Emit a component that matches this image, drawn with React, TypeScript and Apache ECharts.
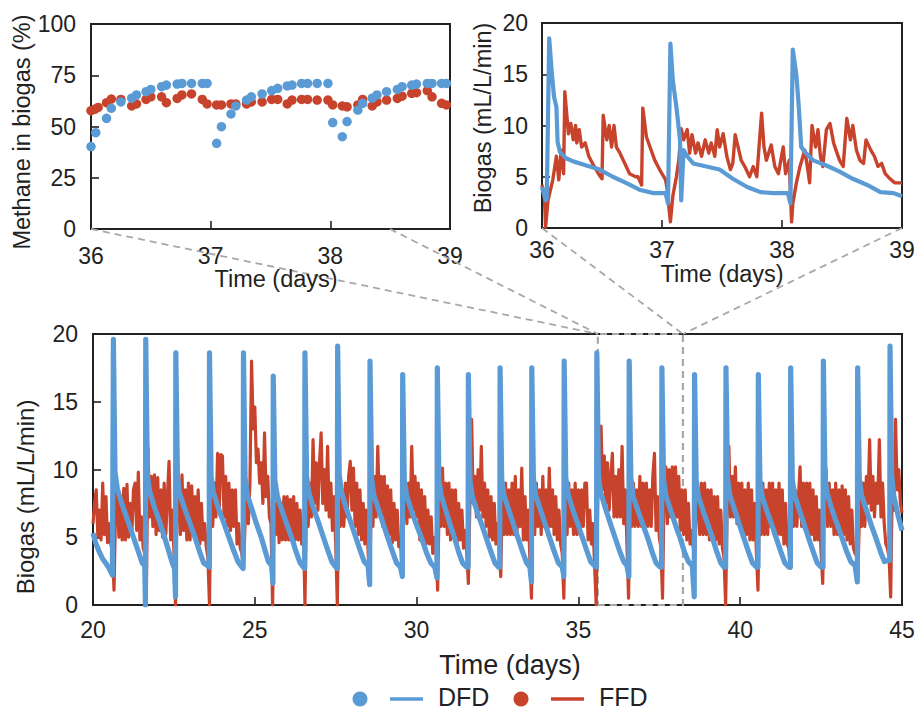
import React, { useEffect, useRef } from "react";
import * as echarts from "echarts";

const FONT = "'Liberation Sans', Arial, Helvetica, sans-serif";
const BLUE = "#5B9BD5";
const RED = "#C8432C";
const INK = "#222222";
const DASH = "#A8A8A8";

// ---------- Top-left: methane content (%) ----------
const methaneDFD: [number, number][] = [
  [36.0, 40.2], [36.04, 47], [36.13, 54], [36.17, 58.9], [36.25, 62], [36.34, 63.8], [36.38, 65.4],
  [36.46, 67], [36.5, 68.1], [36.59, 69.4], [36.63, 70.2], [36.72, 70.7], [36.76, 71], [36.84, 71],
  [36.93, 71], [36.97, 71], [37.05, 41.8], [37.09, 49.9], [37.17, 56.1], [37.21, 60], [37.3, 62.9],
  [37.34, 64.5], [37.43, 65.9], [37.51, 67.5], [37.56, 68.6], [37.64, 69.8], [37.68, 70.2],
  [37.76, 71], [37.81, 71], [37.89, 71], [37.98, 71], [38.02, 51.9], [38.1, 45], [38.14, 52.4],
  [38.23, 58], [38.27, 61.3], [38.35, 63.8], [38.39, 65.4], [38.47, 67], [38.56, 68.1], [38.6, 69.4],
  [38.68, 70.2], [38.72, 70.7], [38.81, 71], [38.85, 71], [38.93, 71], [38.97, 71],
];
const methaneFFD: [number, number][] = [
  [36.0, 57.7], [36.03, 58.4], [36.06, 59.3], [36.13, 61.6], [36.17, 63.4], [36.25, 63.2], [36.34, 60],
  [36.38, 61], [36.46, 63.2], [36.5, 64.5], [36.59, 64.5], [36.63, 61.6], [36.72, 63.7], [36.76, 65.4],
  [36.84, 65.9], [36.93, 63.2], [36.97, 61], [37.05, 60.5], [37.09, 60.5], [37.17, 61], [37.21, 61],
  [37.3, 61], [37.34, 62], [37.43, 62], [37.51, 63.2], [37.56, 63.2], [37.64, 61], [37.68, 62.9],
  [37.76, 63.2], [37.81, 63.2], [37.89, 62.9], [37.98, 62.9], [38.02, 60.5], [38.1, 60], [38.14, 59.6],
  [38.23, 60.5], [38.27, 63.2], [38.35, 60], [38.39, 62], [38.47, 62.9], [38.56, 63.7], [38.6, 64.8],
  [38.68, 66.2], [38.72, 66.5], [38.81, 67.5], [38.85, 64.5], [38.93, 61.3], [38.97, 60.5],
];

// ---------- Top-right: biogas, zoomed days 36-39 ----------
const zoomDFD: [number, number][] = [
  [36.0, 4.0], [36.03, 2.7], [36.04, 2.9], [36.06, 18.5], [36.08, 15.4], [36.1, 12.8], [36.12, 11.8],
  [36.13, 8.4], [36.15, 7.4], [36.2, 6.8], [36.26, 6.5], [36.37, 6.1], [36.48, 5.7], [36.59, 5.0],
  [36.7, 4.4], [36.82, 3.7], [36.93, 3.4], [37.03, 3.4], [37.05, 2.4], [37.07, 18.0], [37.09, 14.4],
  [37.12, 11.8], [37.15, 8.6], [37.16, 2.7], [37.18, 7.6], [37.21, 7.0], [37.26, 6.3], [37.37, 6.0],
  [37.48, 5.7], [37.59, 4.8], [37.71, 4.0], [37.82, 3.5], [37.93, 3.4], [38.05, 3.4], [38.07, 2.4],
  [38.09, 17.4], [38.12, 14.9], [38.14, 11.8], [38.16, 7.9], [38.2, 7.3], [38.26, 6.6], [38.37, 6.1],
  [38.48, 5.5], [38.59, 4.8], [38.71, 4.2], [38.82, 3.5], [38.93, 3.4], [39.0, 3.1],
];
const zoomFFD: [number, number][] = [
  [36.0, 4.2], [36.02, 3.1], [36.03, 0.1], [36.05, 2.7], [36.07, 3.7], [36.09, 4.7], [36.12, 7.0],
  [36.14, 4.7], [36.16, 7.6], [36.18, 5.3], [36.19, 13.3], [36.22, 9.2], [36.24, 10.2], [36.26, 8.6],
  [36.28, 10.0], [36.29, 8.3], [36.31, 9.6], [36.33, 7.9], [36.36, 8.3], [36.39, 7.0], [36.43, 6.1],
  [36.47, 5.3], [36.5, 4.8], [36.51, 11.0], [36.54, 8.6], [36.56, 10.0], [36.58, 7.9], [36.6, 10.0],
  [36.62, 7.9], [36.65, 7.3], [36.69, 6.3], [36.73, 5.3], [36.78, 5.0], [36.8, 5.0], [36.83, 4.2],
  [36.84, 11.7], [36.87, 8.9], [36.9, 7.9], [36.94, 6.6], [36.98, 5.7], [37.03, 4.7], [37.04, 4.0],
  [37.07, 0.6], [37.09, 3.1], [37.12, 5.0], [37.14, 6.6], [37.16, 9.7], [37.18, 8.6], [37.21, 9.6],
  [37.23, 7.3], [37.25, 9.1], [37.28, 7.3], [37.3, 8.3], [37.33, 7.0], [37.36, 8.6], [37.39, 7.3],
  [37.41, 8.3], [37.44, 7.0], [37.46, 9.6], [37.48, 7.9], [37.51, 9.2], [37.54, 7.0], [37.57, 5.7],
  [37.59, 6.3], [37.61, 9.1], [37.64, 7.6], [37.66, 6.6], [37.69, 6.0], [37.73, 5.0], [37.76, 6.0],
  [37.79, 5.0], [37.83, 11.2], [37.85, 7.9], [37.87, 6.6], [37.91, 8.1], [37.94, 6.0], [37.97, 5.3],
  [38.01, 7.9], [38.03, 5.3], [38.06, 6.6], [38.08, 0.6], [38.09, 2.4], [38.12, 4.4], [38.15, 6.0],
  [38.19, 7.6], [38.22, 5.3], [38.23, 4.4], [38.25, 10.0], [38.28, 7.9], [38.3, 9.6], [38.32, 7.0],
  [38.34, 6.0], [38.37, 9.6], [38.4, 10.2], [38.43, 8.3], [38.45, 7.6], [38.48, 6.6], [38.51, 6.0],
  [38.54, 10.7], [38.57, 8.6], [38.59, 10.0], [38.62, 7.6], [38.65, 6.6], [38.68, 6.3], [38.7, 8.6],
  [38.74, 7.6], [38.77, 7.0], [38.8, 6.0], [38.83, 6.3], [38.86, 5.3], [38.9, 4.8], [38.94, 4.4],
  [39.0, 4.4],
];

// ---------- Bottom: biogas, days 20-45 ----------
const mainDFD: [number, number][] = [
  [20.0, 5.3], [20.08, 4.6], [20.18, 4.0], [20.3, 3.4], [20.42, 3.0], [20.5, 2.7], [20.6, 2.2],
  [20.63, 19.6], [20.68, 9.8], [20.75, 8.6], [20.9, 7.4], [21.05, 6.4], [21.25, 5.0], [21.42, 3.8], [21.52, 3.1], [21.6, 2.9], [21.62, 0],
  [21.63, 19.6], [21.68, 9.6], [21.75, 8.4], [21.9, 7.2], [22.05, 6.2], [22.2, 5.1], [22.35, 3.9], [22.45, 3.1], [22.52, 2.7], [22.55, 0.6],
  [22.56, 18.6], [22.61, 9.4], [22.68, 8.2], [22.85, 7.0], [23.0, 6.0], [23.15, 5.0], [23.3, 3.9], [23.42, 3.1], [23.55, 2.9], [23.59, 2.8],
  [23.6, 18.6], [23.65, 9.5], [23.72, 8.3], [23.88, 7.1], [24.05, 6.0], [24.2, 5.0], [24.35, 4.0], [24.48, 3.2], [24.6, 2.8], [24.64, 2.7],
  [24.65, 18.6], [24.7, 9.4], [24.77, 8.1], [24.92, 7.0], [25.05, 6.0], [25.2, 5.0], [25.32, 4.0], [25.42, 3.2], [25.52, 2.9], [25.56, 1.6],
  [25.57, 16.9], [25.62, 9.2], [25.7, 8.0], [25.85, 6.9], [26.0, 5.9], [26.15, 4.9], [26.28, 3.9], [26.4, 3.1], [26.5, 2.8], [26.54, 2.7],
  [26.55, 18.6], [26.6, 9.5], [26.67, 8.3], [26.82, 7.1], [26.98, 6.0], [27.12, 5.0], [27.26, 4.0], [27.38, 3.2], [27.5, 2.8], [27.55, 2.7],
  [27.56, 19.1], [27.61, 9.6], [27.68, 8.3], [27.83, 7.1], [27.98, 6.0], [28.12, 5.0], [28.26, 4.0], [28.38, 3.2], [28.5, 2.9], [28.55, 1.5],
  [28.56, 18.0], [28.61, 9.3], [28.68, 8.1], [28.83, 7.0], [28.98, 5.9], [29.12, 4.9], [29.26, 3.9], [29.38, 3.1], [29.5, 2.8], [29.56, 2.1],
  [29.57, 17.0], [29.62, 9.2], [29.7, 8.0], [29.85, 6.9], [30.0, 5.9], [30.16, 4.9], [30.3, 3.9], [30.44, 3.1], [30.56, 2.8], [30.63, 2.0],
  [30.64, 17.5], [30.69, 9.3], [30.76, 8.1], [30.9, 7.0], [31.04, 5.9], [31.18, 4.9], [31.3, 3.9], [31.42, 3.1], [31.54, 2.8], [31.59, 2.8],
  [31.6, 17.0], [31.65, 9.2], [31.72, 8.0], [31.87, 6.9], [32.02, 5.9], [32.16, 4.9], [32.3, 3.9], [32.42, 3.1], [32.53, 2.8], [32.57, 2.8],
  [32.58, 17.5], [32.63, 9.3], [32.7, 8.1], [32.85, 7.0], [33.0, 5.9], [33.14, 4.9], [33.28, 3.9], [33.4, 3.1], [33.5, 2.8], [33.55, 1.7],
  [33.56, 17.5], [33.61, 9.3], [33.68, 8.1], [33.83, 7.0], [33.98, 5.9], [34.12, 4.9], [34.26, 3.9], [34.38, 3.1], [34.5, 2.8], [34.55, 2.1],
  [34.56, 18.0], [34.61, 9.4], [34.68, 8.2], [34.83, 7.0], [34.98, 6.0], [35.12, 5.0], [35.26, 4.0], [35.38, 3.2], [35.5, 2.9], [35.56, 2.8],
  [35.57, 18.6], [35.62, 9.5], [35.69, 8.3], [35.84, 7.1], [35.99, 6.0], [36.13, 5.0], [36.27, 4.0], [36.4, 3.2], [36.5, 2.9], [36.56, 2.1],
  [36.57, 18.0], [36.62, 9.4], [36.69, 8.0], [36.85, 6.9], [37.0, 5.9], [37.15, 4.9], [37.28, 3.9], [37.4, 3.1], [37.52, 2.8], [37.57, 2.8],
  [37.58, 17.5], [37.63, 9.3], [37.7, 8.1], [37.85, 7.0], [38.0, 5.9], [38.15, 4.9], [38.28, 3.9], [38.4, 3.2], [38.52, 2.9], [38.58, 0.6],
  [38.59, 17.0], [38.64, 9.2], [38.71, 8.0], [38.86, 6.9], [39.01, 5.9], [39.15, 4.9], [39.28, 3.9], [39.4, 3.1], [39.5, 2.8], [39.55, 2.8],
  [39.56, 17.5], [39.61, 9.3], [39.68, 8.1], [39.83, 7.0], [39.98, 5.9], [40.12, 4.9], [40.26, 3.9], [40.38, 3.1], [40.5, 2.8], [40.55, 2.8],
  [40.56, 17.0], [40.61, 9.2], [40.68, 8.0], [40.83, 6.9], [40.98, 5.9], [41.12, 4.9], [41.26, 3.9], [41.38, 3.1], [41.5, 2.8], [41.55, 2.8],
  [41.56, 17.5], [41.61, 9.3], [41.68, 8.1], [41.83, 7.0], [41.98, 5.9], [42.12, 4.9], [42.26, 3.9], [42.38, 3.1], [42.5, 2.8], [42.56, 2.8],
  [42.57, 18.0], [42.62, 9.4], [42.69, 8.2], [42.84, 7.0], [42.99, 6.0], [43.14, 5.0], [43.28, 4.0], [43.42, 3.2], [43.55, 2.9], [43.62, 1.7],
  [43.63, 17.5], [43.68, 9.3], [43.75, 8.1], [43.9, 7.0], [44.05, 5.9], [44.2, 4.9], [44.34, 3.9], [44.46, 3.2], [44.56, 3.3], [44.62, 3.3],
  [44.63, 19.1], [44.68, 9.6], [44.75, 8.0], [44.88, 6.6], [45.0, 5.5],
];

// FFD sampled every 0.05 day from day 20.00 to 45.00 (one row = half a day)
const mainFFDStart = 20;
const mainFFDStep = 0.05;
const mainFFDValues: number[] = [
  6.0, 7.5, 8.5, 5.0, 7.0, 4.8, 9.0, 5.2, 8.0, 4.6,
  6.0, 4.5, 4.0, 1.1, 7.5, 8.8, 5.0, 8.0, 4.8, 8.6,
  4.8, 8.9, 5.0, 7.5, 5.2, 8.5, 9.0, 5.5, 9.8, 4.8,
  6.5, 4.2, 3.8, 1.0, 11.6, 6.5, 9.5, 5.8, 9.6, 5.2,
  9.4, 5.5, 8.5, 5.0, 9.0, 5.2, 8.0, 10.6, 4.8, 7.0,
  4.0, 0.0, 8.0, 9.0, 5.2, 9.6, 5.5, 8.5, 4.8, 9.0,
  4.8, 8.8, 5.2, 8.0, 4.8, 8.5, 4.5, 7.5, 4.8, 6.0,
  4.3, 3.5, 0.0, 9.5, 5.8, 9.0, 6.5, 11.2, 7.0, 11.1,
  11.0, 6.5, 9.5, 5.8, 9.0, 5.5, 8.5, 5.8, 8.5, 4.5,
  6.0, 4.2, 3.8, 2.7, 6.0, 8.0, 6.0, 9.0, 18.0, 13.0,
  14.6, 10.5, 11.5, 9.0, 10.5, 7.5, 12.7, 8.0, 9.5, 6.5,
  6.0, 0.0, 7.5, 5.2, 8.0, 4.6, 7.5, 4.8, 8.0, 4.8,
  8.0, 4.8, 7.8, 5.0, 8.0, 4.8, 7.5, 4.8, 7.0, 4.5,
  6.0, 0.0, 8.0, 5.8, 9.0, 6.5, 12.2, 7.5, 10.5, 7.0,
  10.5, 12.7, 7.5, 10.0, 7.0, 11.7, 6.5, 9.0, 5.5, 8.0,
  4.5, 0.0, 8.5, 5.8, 8.5, 5.8, 9.0, 6.5, 9.5, 10.6,
  7.0, 10.1, 5.8, 9.0, 5.2, 8.5, 4.8, 7.5, 4.5, 7.0,
  4.0, 1.6, 8.0, 5.8, 9.5, 6.5, 11.7, 7.0, 9.5, 5.8,
  9.5, 5.2, 8.8, 5.2, 8.5, 4.6, 7.5, 4.8, 7.0, 4.3,
  5.0, 2.3, 7.5, 9.0, 6.0, 9.0, 6.5, 11.7, 7.0, 9.5,
  6.5, 9.0, 4.8, 8.5, 4.8, 8.0, 4.5, 7.0, 4.5, 6.5,
  3.8, 5.0, 4.2, 1.1, 8.0, 5.8, 10.1, 5.8, 9.0, 5.2,
  9.0, 4.8, 8.5, 5.2, 8.5, 4.5, 7.5, 4.8, 7.0, 4.2,
  5.5, 3.8, 1.6, 8.0, 13.7, 7.5, 9.5, 6.5, 10.0, 7.0,
  11.7, 6.5, 9.0, 5.8, 8.5, 5.0, 8.0, 4.8, 7.5, 4.5,
  6.0, 4.2, 2.1, 8.0, 5.2, 9.0, 5.2, 8.5, 5.2, 9.0,
  5.2, 9.5, 5.2, 8.5, 5.8, 10.1, 4.8, 8.0, 4.8, 7.0,
  3.5, 0.5, 8.5, 5.2, 9.0, 5.8, 8.5, 5.2, 9.5, 5.8,
  8.5, 5.2, 10.1, 5.8, 8.5, 5.2, 8.0, 4.8, 7.0, 4.5,
  3.8, 0.5, 8.0, 5.2, 9.0, 5.8, 8.5, 5.2, 9.0, 5.2,
  8.5, 5.2, 8.5, 5.8, 9.0, 9.0, 4.8, 7.0, 4.5, 6.0,
  3.0, 0.0, 8.0, 10.0, 13.2, 8.5, 11.0, 7.5, 10.5, 7.0,
  9.5, 11.2, 6.5, 9.5, 6.5, 10.0, 6.5, 11.7, 6.0, 8.5,
  4.5, 0.5, 9.0, 5.8, 9.0, 5.8, 8.5, 5.8, 9.5, 5.8,
  9.0, 5.8, 9.0, 5.8, 8.5, 5.8, 9.5, 11.2, 5.5, 8.0,
  5.0, 4.2, 0.5, 8.5, 10.2, 6.0, 10.0, 6.5, 10.2, 6.5,
  10.2, 6.5, 9.5, 5.5, 8.5, 5.2, 8.5, 4.8, 7.5, 4.5,
  5.5, 4.2, 3.8, 7.5, 8.5, 5.2, 9.0, 5.2, 9.0, 5.2,
  8.5, 4.8, 8.5, 5.2, 8.0, 4.8, 8.0, 4.5, 7.0, 4.2,
  3.5, 0.0, 7.5, 11.7, 6.5, 9.5, 6.5, 10.2, 6.0, 9.0,
  5.8, 9.0, 5.2, 8.5, 5.2, 9.0, 4.8, 8.5, 4.8, 7.5,
  3.8, 1.1, 8.5, 5.2, 9.0, 5.2, 8.5, 5.2, 9.0, 5.8,
  9.0, 5.2, 8.5, 5.2, 9.0, 5.2, 8.5, 4.5, 7.5, 4.5,
  4.2, 2.7, 8.0, 5.8, 8.5, 5.8, 8.0, 10.2, 5.8, 9.0,
  5.8, 9.0, 5.2, 9.0, 5.2, 8.5, 4.8, 8.0, 4.8, 7.0,
  3.8, 1.6, 8.0, 10.1, 5.8, 9.0, 5.8, 8.5, 5.2, 9.0,
  5.2, 8.5, 5.2, 8.8, 5.2, 8.5, 4.8, 8.0, 4.5, 7.0,
  4.2, 3.8, 3.6, 3.3, 8.0, 5.8, 9.0, 5.8, 9.5, 7.5,
  12.2, 7.0, 9.5, 6.5, 9.0, 7.5, 12.2, 6.5, 9.0, 6.0,
  4.5, 4.2, 3.5, 0.6, 9.0, 7.0, 13.7, 8.5, 10.0, 7.5,
  6.8,
];

// zoom window drawn on the bottom panel
const zoomWindow: [number, number] = [35.6, 38.23];

// axis ranges
const methaneRange = { min: 0, max: 100, interval: 25 };
const biogasRange = { min: 0, max: 20, interval: 5 };
const zoomDays = { min: 36, max: 39, interval: 1 };
const mainDays = { min: 20, max: 45, interval: 5 };

const legendItems = [
  { name: "DFD", color: BLUE },
  { name: "FFD", color: RED },
];

function axis(gridIndex: number, r: { min: number; max: number; interval: number }, margin: number) {
  return {
    type: "value",
    gridIndex,
    min: r.min,
    max: r.max,
    interval: r.interval,
    axisLine: { show: true, lineStyle: { color: INK, width: 2 } },
    axisTick: { show: true, inside: true, length: 8, lineStyle: { color: INK, width: 1.6 } },
    axisLabel: {
      show: true, margin, color: INK, fontSize: 23, fontFamily: FONT,
      showMinLabel: true, showMaxLabel: true,
    },
    splitLine: { show: false },
  };
}

function txt(text: string, x: number, y: number, size: number, rotate = false) {
  return {
    type: "text",
    x, y,
    rotation: rotate ? Math.PI / 2 : 0,
    z: 50,
    silent: true,
    style: {
      text, fill: INK, fontSize: size, fontFamily: FONT,
      textAlign: "center", textVerticalAlign: "middle", align: "center", verticalAlign: "middle",
    },
  };
}
function dashLine(x1: number, y1: number, x2: number, y2: number) {
  return {
    type: "line",
    z: 40,
    silent: true,
    shape: { x1, y1, x2, y2 },
    style: { stroke: DASH, lineWidth: 1.8, lineDash: [7, 5] },
  };
}

export default function App() {
  const ref = useRef<HTMLDivElement>(null);
  useEffect(() => {
    if (!ref.current) return;
    const chart = echarts.init(ref.current, undefined, { renderer: "svg" });
    const mainFFD = mainFFDValues.map((v, i) => [
      Math.round((mainFFDStart + i * mainFFDStep) * 1000) / 1000,
      v,
    ]);
    const gridBase = { show: true, borderColor: INK, borderWidth: 2, backgroundColor: "rgba(0,0,0,0)", containLabel: false };

    const graphics: any[] = [
      txt("Methane in biogas (%)", 22, 132, 23.5, true),
      txt("Time (days)", 276, 279, 23.5),
      txt("Biogas (mL/L/min)", 483, 118, 23.5, true),
      txt("Time (days)", 722, 274, 23.5),
      txt("Biogas (mL/L/min)", 25, 497, 24, true),
      txt("Time (days)", 510, 665, 27),
      dashLine(91, 229, 598, 334),
      dashLine(390, 229, 598, 334),
      dashLine(542, 228, 683, 334),
      dashLine(902, 228, 683, 334),
    ];
    const legendX = [360, 521];
    legendItems.forEach((it, i) => {
      const cx = legendX[i];
      graphics.push({ type: "circle", z: 50, shape: { cx, cy: 699, r: 7.5 }, style: { fill: it.color } });
      graphics.push({
        type: "line", z: 50,
        shape: { x1: cx + 30, y1: 699, x2: cx + 63, y2: 699 },
        style: { stroke: it.color, lineWidth: 3.4 },
      });
      graphics.push({
        type: "text", z: 50, x: cx + 78, y: 697,
        style: { text: it.name, fill: INK, fontSize: 25, fontFamily: FONT, textAlign: "left", align: "left", textVerticalAlign: "middle", verticalAlign: "middle" },
      });
    });

    const option: any = {
      animation: false,
      backgroundColor: "#ffffff",
      grid: [
        { ...gridBase, left: 91, top: 24, width: 359, height: 205 },
        { ...gridBase, left: 542, top: 23, width: 360, height: 205 },
        { ...gridBase, left: 93, top: 334, width: 809, height: 271 },
      ],
      xAxis: [
        axis(0, zoomDays, 15),
        axis(1, zoomDays, 10),
        axis(2, mainDays, 13),
      ],
      yAxis: [
        axis(0, methaneRange, 15),
        axis(1, biogasRange, 14),
        axis(2, biogasRange, 15),
      ],
      series: [
        {
          type: "scatter", name: "FFD", xAxisIndex: 0, yAxisIndex: 0, data: methaneFFD,
          symbol: "circle", symbolSize: 9.5, itemStyle: { color: RED, opacity: 1 }, z: 2,
        },
        {
          type: "scatter", name: "DFD", xAxisIndex: 0, yAxisIndex: 0, data: methaneDFD,
          symbol: "circle", symbolSize: 9.5, itemStyle: { color: BLUE, opacity: 1 }, z: 3,
        },
        {
          type: "line", name: "FFD", xAxisIndex: 1, yAxisIndex: 1, data: zoomFFD,
          showSymbol: false, symbol: "none", lineStyle: { color: RED, width: 3.4, join: "round" }, z: 2,
        },
        {
          type: "line", name: "DFD", xAxisIndex: 1, yAxisIndex: 1, data: zoomDFD,
          showSymbol: false, symbol: "none", lineStyle: { color: BLUE, width: 4.2, join: "round" }, z: 3,
        },
        {
          type: "line", name: "FFD", xAxisIndex: 2, yAxisIndex: 2, data: mainFFD,
          showSymbol: false, symbol: "none", lineStyle: { color: RED, width: 3.2, join: "round" }, z: 2,
        },
        {
          type: "line", name: "DFD", xAxisIndex: 2, yAxisIndex: 2, data: mainDFD,
          showSymbol: false, symbol: "none", lineStyle: { color: BLUE, width: 5.2, join: "round" }, z: 3,
        },
        {
          type: "line", name: "zoom", xAxisIndex: 2, yAxisIndex: 2,
          data: [[zoomWindow[0], 0], [zoomWindow[1], 0]],
          showSymbol: false, symbol: "none", lineStyle: { opacity: 0 }, silent: true, z: 6,
          markArea: {
            silent: true,
            label: { show: false },
            itemStyle: { color: "rgba(0,0,0,0)", borderColor: DASH, borderWidth: 2.2, borderType: [7, 5] },
            data: [[{ xAxis: zoomWindow[0], yAxis: biogasRange.min }, { xAxis: zoomWindow[1], yAxis: biogasRange.max }]],
          },
        },
      ],
      graphic: graphics,
    };
    chart.setOption(option);
    return () => chart.dispose();
  }, []);
  return (
    <div
      ref={ref}
      style={{ position: "fixed", left: 0, top: 0, width: 921, height: 710, background: "#fff" }}
    />
  );
}
